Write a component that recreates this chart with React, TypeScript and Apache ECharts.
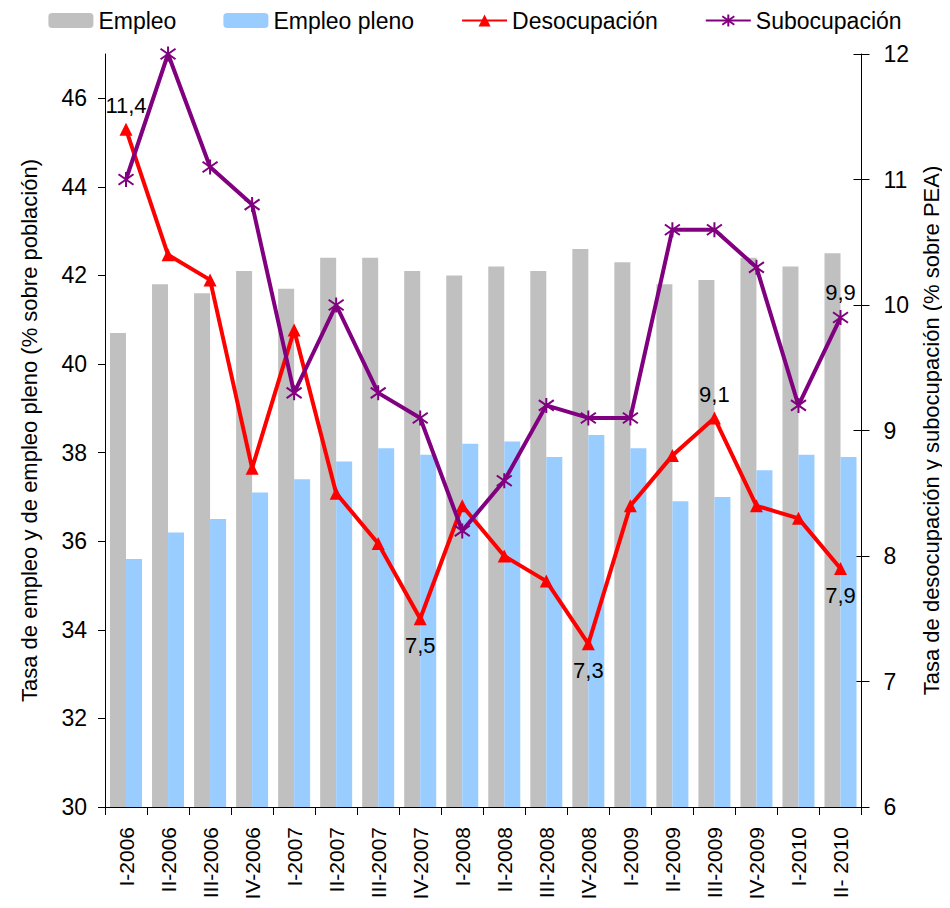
import React, { useEffect, useRef } from "react";
import * as echarts from "echarts";

const categories = [
  "I-2006", "II-2006", "III-2006", "IV-2006",
  "I-2007", "II-2007", "III-2007", "IV-2007",
  "I-2008", "II-2008", "III-2008", "IV-2008",
  "I-2009", "II-2009", "III-2009", "IV-2009",
  "I-2010", "II- 2010",
];

const empleo = [40.7, 41.8, 41.6, 42.1, 41.7, 42.4, 42.4, 42.1, 42.0, 42.2, 42.1, 42.6, 42.3, 41.8, 41.9, 42.4, 42.2, 42.5];
const empleoPleno = [35.6, 36.2, 36.5, 37.1, 37.4, 37.8, 38.1, 37.95, 38.2, 38.25, 37.9, 38.4, 38.1, 36.9, 37.0, 37.6, 37.95, 37.9];
const desocupacion = [11.4, 10.4, 10.2, 8.7, 9.8, 8.5, 8.1, 7.5, 8.4, 8.0, 7.8, 7.3, 8.4, 8.8, 9.1, 8.4, 8.3, 7.9];
const subocupacion = [11.0, 12.0, 11.1, 10.8, 9.3, 10.0, 9.3, 9.1, 8.2, 8.6, 9.2, 9.1, 9.1, 10.6, 10.6, 10.3, 9.2, 9.9];

// which points carry a value label, and where
const desocLabelIdx: Record<number, string> = { 0: "top", 7: "bottom", 11: "bottom", 14: "top", 17: "bottom" };
const subocLabelIdx: Record<number, string> = { 17: "top" };

const FONT = "Liberation Sans, Arial, sans-serif";
const fmt = (v: number) => v.toFixed(1).replace(".", ",");

function withLabels(values: number[], idx: Record<number, string>) {
  return values.map((v, i) =>
    idx[i]
      ? {
          value: v,
          label: {
            show: true,
            position: idx[i],
            distance: idx[i] === "top" ? 6 : 9,
            formatter: fmt(v),
            color: "#000",
            fontSize: 22,
            fontFamily: FONT,
          },
        }
      : v
  );
}

const STAR = "path://M5,0L5,10M0.5,1.5L9.5,8.5M9.5,1.5L0.5,8.5";

export default function App() {
  const ref = useRef<HTMLDivElement>(null);
  useEffect(() => {
    if (!ref.current) return;
    const chart = echarts.init(ref.current, undefined, { renderer: "svg" });
    const axisText = { color: "#000", fontSize: 23, fontFamily: FONT };
    chart.setOption({
      animation: false,
      backgroundColor: "#fff",
      textStyle: { fontFamily: FONT },
      legend: {
        top: 4,
        left: "center",
        itemWidth: 45,
        itemHeight: 15,
        itemGap: 47,
        textStyle: { color: "#000", fontSize: 23, fontFamily: FONT },
        data: ["Empleo", "Empleo pleno", "Desocupación", "Subocupación"],
      },
      grid: { left: 105, right: 81, top: 54, bottom: 101 },
      xAxis: {
        type: "category",
        data: categories,
        boundaryGap: true,
        axisLine: { lineStyle: { color: "#000", width: 1 } },
        axisTick: { show: true, length: 8, lineStyle: { color: "#000" } },
        axisLabel: { ...axisText, fontSize: 21, rotate: 90, interval: 0, margin: 20 },
      },
      yAxis: [
        {
          type: "value",
          min: 30,
          max: 47,
          interval: 2,
          position: "left",
          name: "Tasa de empleo y de empleo pleno (% sobre población)",
          nameLocation: "middle",
          nameGap: 65,
          nameTextStyle: { color: "#000", fontSize: 22, fontFamily: FONT },
          axisLine: { show: true, lineStyle: { color: "#000", width: 1 } },
          axisTick: { show: true, length: 7, lineStyle: { color: "#000" } },
          axisLabel: { ...axisText, margin: 18, showMaxLabel: false },
          splitLine: { show: false },
        },
        {
          type: "value",
          min: 6,
          max: 12,
          interval: 1,
          position: "right",
          name: "Tasa de desocupación y subocupación (% sobre PEA)",
          nameLocation: "middle",
          nameGap: 52,
          nameRotate: 90,
          nameTextStyle: { color: "#000", fontSize: 22, fontFamily: FONT },
          axisLine: { show: true, lineStyle: { color: "#000", width: 1 } },
          axisTick: { show: true, length: 8, lineStyle: { color: "#000" } },
          axisLabel: { ...axisText, margin: 22 },
          splitLine: { show: false },
        },
        {
          type: "value",
          min: 6,
          max: 12,
          interval: 1,
          position: "right",
          axisLine: { show: false },
          axisTick: { show: true, inside: true, length: 8, lineStyle: { color: "#000" } },
          axisLabel: { show: false },
          splitLine: { show: false },
        },
      ],
      series: [
        {
          name: "Empleo",
          type: "bar",
          yAxisIndex: 0,
          data: empleo,
          barWidth: 16,
          barGap: "0%",
          itemStyle: { color: "#C0C0C0" },
        },
        {
          name: "Empleo pleno",
          type: "bar",
          yAxisIndex: 0,
          data: empleoPleno,
          barWidth: 16,
          barGap: "0%",
          itemStyle: { color: "#99CCFF" },
        },
        {
          name: "Desocupación",
          type: "line",
          yAxisIndex: 1,
          data: withLabels(desocupacion, desocLabelIdx),
          symbol: "triangle",
          symbolSize: 13,
          lineStyle: { color: "#FF0000", width: 4 },
          itemStyle: { color: "#FF0000" },
          z: 3,
        },
        {
          name: "Subocupación",
          type: "line",
          yAxisIndex: 1,
          data: withLabels(subocupacion, subocLabelIdx),
          symbol: STAR,
          symbolSize: 15,
          lineStyle: { color: "#800080", width: 4 },
          itemStyle: { color: "#800080", borderColor: "#800080", borderWidth: 2 },
          z: 4,
        },
      ],
    });
    return () => chart.dispose();
  }, []);
  return <div ref={ref} style={{ width: 950, height: 908, margin: -8 }} />;
}
